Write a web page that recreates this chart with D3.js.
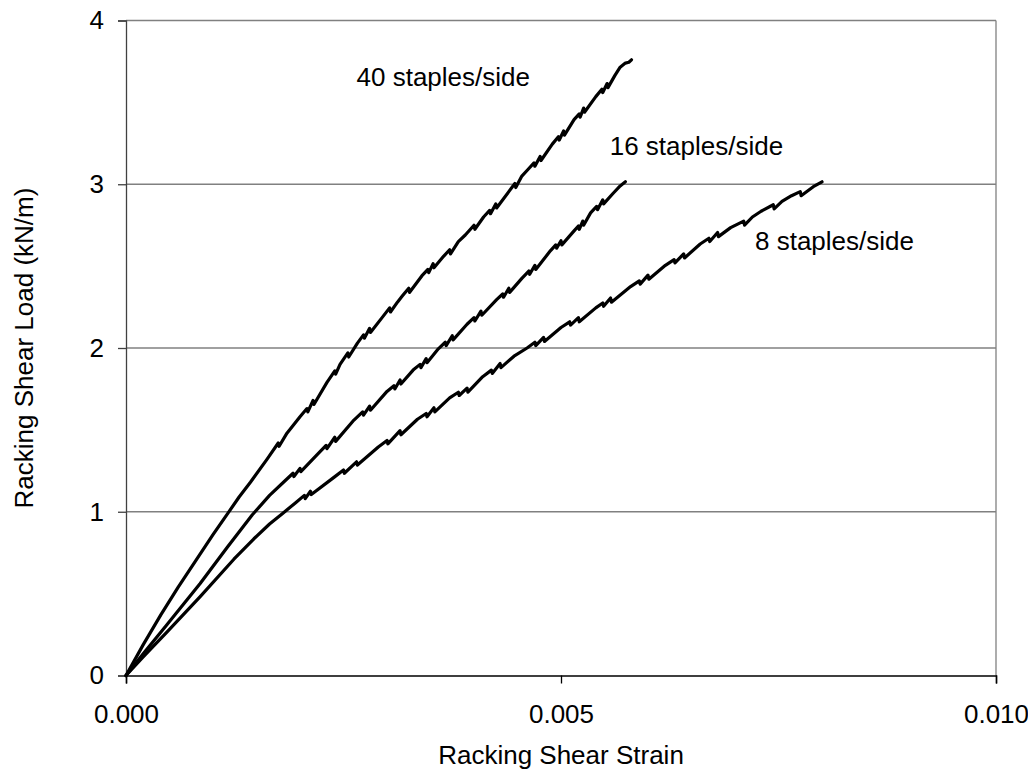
<!DOCTYPE html>
<html>
<head>
<meta charset="utf-8">
<script src="https://cdn.jsdelivr.net/npm/d3@7/dist/d3.min.js"></script>
<style>
  html, body { margin: 0; padding: 0; background: #fff; }
  svg { display: block; }
  text { font-family: "Liberation Sans", Arial, sans-serif; fill: #000; }
</style>
</head>
<body>
<svg id="chart" width="1028" height="771"></svg>
<script>
// ---- data (strain, load kN/m) ----
const xTicks = [0, 0.005, 0.010];
const yTicks = [0, 1, 2, 3, 4];
const seriesNames = ["40 staples/side", "16 staples/side", "8 staples/side"];

const staples40 = [
  [0,0],[0.00020,0.19],[0.00040,0.37],[0.00060,0.54],[0.00080,0.70],[0.00100,0.86],
  [0.00117,0.99],[0.00130,1.09],[0.00143,1.18],[0.00162,1.32],[0.00175,1.42],[0.00176,1.40],
  [0.00185,1.48],[0.00200,1.58],[0.00208,1.63],[0.00209,1.61],
  [0.00215,1.68],[0.00216,1.655],[0.00231,1.79],[0.00240,1.86],[0.00241,1.84],[0.00246,1.90],
  [0.00255,1.97],[0.00256,1.945],[0.00266,2.03],
  [0.00273,2.08],[0.00274,2.06],[0.00280,2.12],[0.00281,2.095],[0.00295,2.19],
  [0.00303,2.245],[0.00304,2.22],[0.00312,2.28],[0.00318,2.32],
  [0.00325,2.365],[0.00326,2.34],[0.00340,2.44],
  [0.00347,2.48],[0.00348,2.46],[0.00353,2.515],[0.00354,2.49],[0.00365,2.56],
  [0.00372,2.60],[0.00373,2.575],[0.00382,2.65],[0.00390,2.69],
  [0.00400,2.75],[0.00401,2.725],[0.00411,2.80],
  [0.00418,2.84],[0.00419,2.82],[0.00425,2.88],[0.00426,2.855],[0.00440,2.955],
  [0.00447,3.005],[0.00448,2.98],[0.00455,3.05],[0.00462,3.09],
  [0.00469,3.13],[0.00470,3.11],[0.00476,3.17],[0.00477,3.145],[0.00490,3.245],
  [0.00497,3.29],[0.00498,3.27],[0.00503,3.325],[0.00504,3.30],[0.00515,3.395],
  [0.00521,3.43],[0.00522,3.41],[0.00526,3.465],[0.00527,3.44],[0.00540,3.535],
  [0.00547,3.58],[0.00548,3.56],[0.00553,3.615],[0.00554,3.59],[0.00562,3.665],
  [0.00568,3.715],[0.00574,3.74],[0.00578,3.745],[0.00581,3.76]
];

const staples16 = [
  [0,0],[0.00020,0.135],[0.00047,0.31],[0.00085,0.56],[0.00116,0.78],
  [0.00145,0.98],[0.00165,1.10],[0.00181,1.18],
  [0.00192,1.235],[0.00193,1.215],[0.00200,1.265],[0.00201,1.245],[0.00220,1.35],
  [0.00230,1.405],[0.00231,1.385],[0.00240,1.455],[0.00241,1.43],[0.00262,1.56],
  [0.00272,1.61],[0.00273,1.59],[0.00280,1.645],[0.00281,1.62],[0.00300,1.735],
  [0.00308,1.77],[0.00309,1.75],[0.00315,1.805],[0.00316,1.78],[0.00330,1.865],
  [0.00338,1.90],[0.00339,1.88],[0.00345,1.935],[0.00346,1.91],[0.00359,1.995],
  [0.00367,2.035],[0.00368,2.015],[0.00375,2.075],[0.00376,2.05],[0.00392,2.145],
  [0.00400,2.185],[0.00401,2.165],[0.00408,2.225],[0.00409,2.20],[0.00426,2.295],
  [0.00433,2.33],[0.00434,2.31],[0.00440,2.365],[0.00441,2.34],[0.00455,2.425],
  [0.00463,2.47],[0.00464,2.45],[0.00470,2.505],[0.00471,2.48],[0.00488,2.595],
  [0.00494,2.63],[0.00495,2.61],[0.00500,2.655],[0.00501,2.63],[0.00515,2.715],
  [0.00520,2.745],[0.00521,2.725],[0.00525,2.775],[0.00526,2.75],[0.00534,2.825],
  [0.00541,2.865],[0.00542,2.845],[0.00548,2.905],[0.00549,2.88],[0.00560,2.945],
  [0.00568,2.99],[0.00574,3.015]
];

const staples8 = [
  [0,0],[0.00020,0.115],[0.00047,0.265],[0.00085,0.48],[0.00124,0.71],
  [0.00147,0.835],[0.00165,0.925],[0.00180,0.99],[0.00195,1.055],
  [0.00205,1.10],[0.00206,1.08],[0.00212,1.125],[0.00213,1.105],[0.00239,1.21],
  [0.00250,1.255],[0.00251,1.235],[0.00265,1.305],[0.00266,1.285],[0.00290,1.395],
  [0.00300,1.435],[0.00301,1.415],[0.00315,1.495],[0.00316,1.47],[0.00335,1.565],
  [0.00345,1.60],[0.00346,1.58],[0.00354,1.635],[0.00355,1.61],[0.00372,1.695],
  [0.00382,1.73],[0.00383,1.71],[0.00392,1.755],[0.00393,1.73],[0.00410,1.825],
  [0.00420,1.865],[0.00421,1.845],[0.00430,1.905],[0.00431,1.88],[0.00446,1.95],[0.00461,2.00],
  [0.00470,2.035],[0.00471,2.015],[0.00480,2.065],[0.00481,2.04],[0.00500,2.125],
  [0.00510,2.16],[0.00511,2.14],[0.00520,2.185],[0.00521,2.16],[0.00540,2.245],
  [0.00548,2.275],[0.00549,2.255],[0.00557,2.305],[0.00558,2.28],[0.00580,2.375],
  [0.00590,2.41],[0.00591,2.39],[0.00600,2.445],[0.00601,2.42],[0.00620,2.505],
  [0.00630,2.54],[0.00631,2.52],[0.00641,2.575],[0.00642,2.55],[0.00660,2.635],
  [0.00670,2.67],[0.00671,2.65],[0.00680,2.705],[0.00681,2.68],[0.00695,2.735],
  [0.00710,2.775],[0.00711,2.75],[0.00720,2.80],[0.00730,2.835],
  [0.00744,2.875],[0.00745,2.85],[0.00754,2.895],
  [0.00765,2.93],[0.00775,2.955],[0.00776,2.93],[0.00790,2.985],[0.00800,3.015]
];

// label anchor points in data coordinates (strain, load)
const labelPos = [
  [0.002650, 3.60],
  [0.005560, 3.18],
  [0.007230, 2.6]
];

// ---- layout ----
const svg = d3.select("#chart");
const L = 126, R = 996, T = 20.5, B = 675.5;
const x = d3.scaleLinear().domain([0, 0.010]).range([L, R]);
const y = d3.scaleLinear().domain([0, 4]).range([B, T]);

// gridlines
svg.append("g").selectAll("line")
  .data(yTicks.filter(d => d > 0))
  .join("line")
  .attr("x1", L).attr("x2", R)
  .attr("y1", d => y(d)).attr("y2", d => y(d))
  .attr("stroke", "#808080").attr("stroke-width", 1.3);

// right border
svg.append("line")
  .attr("x1", R).attr("x2", R).attr("y1", T).attr("y2", B)
  .attr("stroke", "#808080").attr("stroke-width", 1.3);

// y axis
const yAxis = svg.append("g")
  .attr("transform", `translate(${L},0)`)
  .call(d3.axisLeft(y).tickValues(yTicks).tickFormat(d3.format("d")).tickSize(8).tickPadding(14));
yAxis.select(".domain").attr("stroke", "#404040").attr("stroke-width", 1.3);
yAxis.selectAll(".tick line").attr("stroke", "#404040").attr("stroke-width", 1.3);
yAxis.selectAll("text").style("font-size", "26px").attr("fill", "#000")
  .style("font-family", '"Liberation Sans", Arial, sans-serif');

// x axis
const xAxis = svg.append("g")
  .attr("transform", `translate(0,${B})`)
  .call(d3.axisBottom(x).tickValues(xTicks).tickFormat(d3.format(".3f")).tickSize(8).tickPadding(21));
xAxis.select(".domain").attr("stroke", "#000").attr("stroke-width", 1.5);
xAxis.selectAll(".tick line").attr("stroke", "#000").attr("stroke-width", 1.3);
xAxis.selectAll("text").style("font-size", "26px").attr("fill", "#000")
  .style("font-family", '"Liberation Sans", Arial, sans-serif');

// lines
const line = d3.line().x(d => x(d[0])).y(d => y(d[1]));
[staples40, staples16, staples8].forEach(s => {
  svg.append("path")
    .datum(s)
    .attr("d", line)
    .attr("fill", "none")
    .attr("stroke", "#000")
    .attr("stroke-width", 3.2)
    .attr("stroke-linejoin", "round")
    .attr("stroke-linecap", "round");
});

// series labels
svg.append("g").selectAll("text")
  .data(seriesNames)
  .join("text")
  .attr("x", (d, i) => x(labelPos[i][0]))
  .attr("y", (d, i) => y(labelPos[i][1]))
  .style("font-size", "26px")
  .text(d => d);

// axis titles
svg.append("text")
  .attr("x", (L + R) / 2).attr("y", 764)
  .attr("text-anchor", "middle")
  .style("font-size", "26px")
  .text("Racking Shear Strain");

svg.append("text")
  .attr("transform", `translate(33,${(T + B) / 2}) rotate(-90)`)
  .attr("text-anchor", "middle")
  .style("font-size", "26px")
  .text("Racking Shear Load (kN/m)");
</script>
</body>
</html>
